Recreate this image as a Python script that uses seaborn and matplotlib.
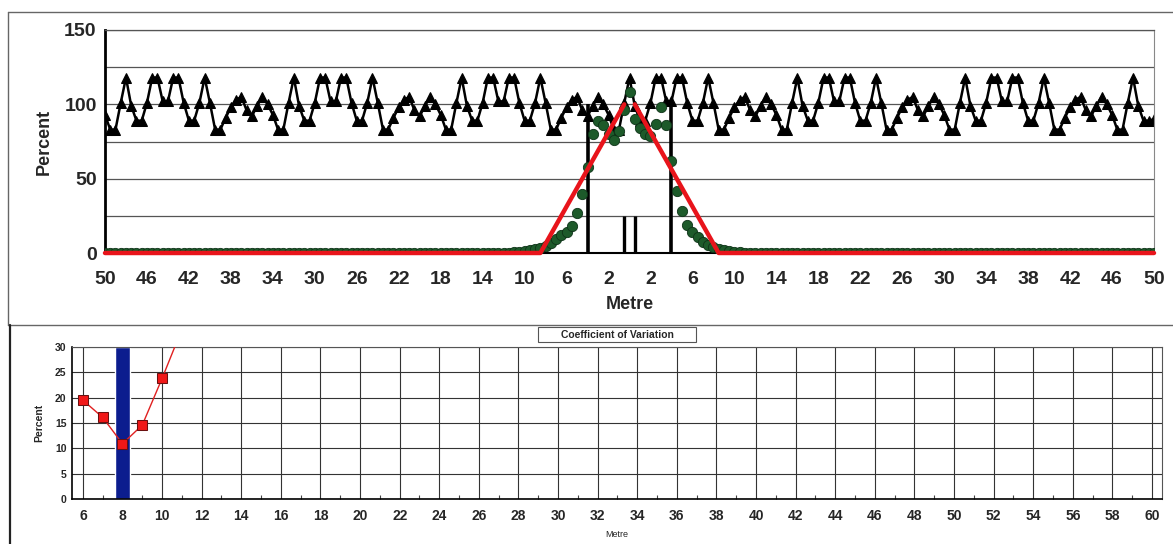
#!/usr/bin/env python3

import numpy as np
import seaborn as sns
import matplotlib
matplotlib.use('Agg')
from matplotlib import pyplot as plt
from matplotlib.lines import Line2D
from matplotlib.patches import Rectangle

# ---- top chart: distribution across the line, 0.5 m steps from -50 to 50
dist = np.arange(-50, 50.5, 0.5)

# overlapped (summed) application, percent of mean
overlap = [
    93,
    83, 83, 101, 118, 99, 89, 89, 101, 118, 118, 102, 102, 118, 118, 101, 89,
    89, 101, 118, 101, 83, 83, 91, 98, 103, 105, 96, 92, 99, 105, 100, 93,
    83, 83, 101, 118, 99, 89, 89, 101, 118, 118, 102, 102, 118, 118, 101, 89,
    89, 101, 118, 101, 83, 83, 91, 98, 103, 105, 96, 92, 99, 105, 100, 93,
    83, 83, 101, 118, 99, 89, 89, 101, 118, 118, 102, 102, 118, 118, 101, 89,
    89, 101, 118, 101, 83, 83, 91, 98, 103, 105, 96, 92, 99, 105, 100, 93,
    83, 83, 101, 118, 99, 89, 89, 101, 118, 118, 102, 102, 118, 118, 101, 89,
    89, 101, 118, 101, 83, 83, 91, 98, 103, 105, 96, 92, 99, 105, 100, 93,
    83, 83, 101, 118, 99, 89, 89, 101, 118, 118, 102, 102, 118, 118, 101, 89,
    89, 101, 118, 101, 83, 83, 91, 98, 103, 105, 96, 92, 99, 105, 100, 93,
    83, 83, 101, 118, 99, 89, 89, 101, 118, 118, 102, 102, 118, 118, 101, 89,
    89, 101, 118, 101, 83, 83, 91, 98, 103, 105, 96, 92, 99, 105, 100, 93,
    83, 83, 101, 118, 99, 89, 89, 90,
]

# single sprinkler (measured) profile
single = [
    0, 0, 0, 0, 0, 0, 0, 0, 0, 0, 0, 0, 0, 0, 0, 0, 0, 0, 0, 0,
    0, 0, 0, 0, 0, 0, 0, 0, 0, 0, 0, 0, 0, 0, 0, 0, 0, 0, 0, 0,
    0, 0, 0, 0, 0, 0, 0, 0, 0, 0, 0, 0, 0, 0, 0, 0, 0, 0, 0, 0,
    0, 0, 0, 0, 0, 0, 0, 0, 0, 0, 0, 0, 0, 0, 0, 0,
    0.1, 0.3, 0.5, 0.8, 1.2, 1.8, 2.6, 3.5, 5, 7, 9.5, 12, 14, 18, 27,
    40, 58, 80, 89, 86, 80, 76, 82, 96, 108, 90, 84, 80, 79, 87, 98,
    86, 62, 42, 28, 19, 14, 11, 7.5, 5.2, 3.8, 2.8, 2, 1.4, 0.9, 0.6,
    0.3, 0.1, 0,
    0, 0, 0, 0, 0, 0, 0, 0, 0, 0, 0, 0, 0, 0, 0, 0, 0, 0, 0, 0,
    0, 0, 0, 0, 0, 0, 0, 0, 0, 0, 0, 0, 0, 0, 0, 0, 0, 0, 0, 0,
    0, 0, 0, 0, 0, 0, 0, 0, 0, 0, 0, 0, 0, 0, 0, 0, 0, 0, 0, 0,
    0, 0, 0, 0, 0, 0, 0, 0, 0, 0, 0, 0, 0, 0, 0, 0,
]

# idealised triangular profile (two halves)
tri_left_x = [-50, -8.5, -0.5]
tri_left_y = [0, 0, 100]
tri_right_x = [0.5, 8.5, 50]
tri_right_y = [100, 0, 0]

# wetted strip markers
strip_x = [-4, 4]
strip_h = 100
centre_x = [-0.5, 0.5]
centre_h = 25

top_ticks = [-50, -46, -42, -38, -34, -30, -26, -22, -18, -14, -10, -6, -2,
             2, 6, 10, 14, 18, 22, 26, 30, 34, 38, 42, 46, 50]
top_labels = ['50', '46', '42', '38', '34', '30', '26', '22', '18', '14',
              '10', '6', '2', '2', '6', '10', '14', '18', '22', '26', '30',
              '34', '38', '42', '46', '50']

# ---- bottom chart: coefficient of variation vs spacing
cv_spacing = [6, 7, 8, 9, 10, 11]
cv_values = [19.5, 16.1, 10.9, 14.6, 23.8, 33.5]
best_spacing = [8]
best_height = [30]

W, H = 1173, 544


def box(x0, y0, x1, y1):
    # pixel box (top-left origin) -> figure fraction rect
    return [x0 / W, 1 - y1 / H, (x1 - x0) / W, (y1 - y0) / H]


sns.set_theme(style='white')
plt.rcParams['font.family'] = ['Liberation Sans', 'DejaVu Sans']

fig = plt.figure(figsize=(W / 100, H / 100), dpi=100)

# ---------------- top chart
ax1 = fig.add_axes(box(105, 30, 1154, 253))
ax1.set_axisbelow(True)

sns.lineplot(x=dist, y=overlap, ax=ax1, color='black', lw=1.8,
             marker='^', markersize=7, markeredgecolor='black',
             markerfacecolor='black', zorder=2)
ax1.vlines(strip_x, 0, strip_h, color='black', lw=2.6, zorder=2.5)
ax1.vlines(centre_x, 0, centre_h, color='black', lw=2.4, zorder=2.5)
sns.scatterplot(x=dist, y=single, ax=ax1, s=55, color='#1d5a2a',
                edgecolor='#0e3318', linewidth=0.6, zorder=3)
sns.lineplot(x=tri_left_x, y=tri_left_y, ax=ax1, color='#e8141b', lw=3.2,
             sort=False, zorder=4, clip_on=False)
sns.lineplot(x=tri_right_x, y=tri_right_y, ax=ax1, color='#e8141b', lw=3.2,
             sort=False, zorder=4, clip_on=False)

ax1.set_xlim(-50, 50)
ax1.set_ylim(0, 150)
ax1.set_xticks(top_ticks)
ax1.set_xticklabels(top_labels)
ax1.set_yticks([0, 50, 100, 150])
ax1.set_yticks([25, 75, 125], minor=True)
ax1.grid(axis='y', which='both', color='#555555', lw=0.9)
ax1.tick_params(axis='x', length=0, labelsize=14, pad=13)
ax1.tick_params(axis='y', which='both', length=0, labelsize=14, pad=6)
for lab in ax1.get_xticklabels() + ax1.get_yticklabels():
    lab.set_fontweight('bold')
ax1.set_xlabel('Metre', fontsize=13, fontweight='bold', labelpad=6)
ax1.set_ylabel('Percent', fontsize=13, fontweight='bold', labelpad=8)
ax1.spines['left'].set(color='black', lw=2)
ax1.spines['bottom'].set(color='black', lw=1.5)
ax1.spines['right'].set(color='#888888', lw=0.8)
ax1.spines['top'].set(color='#555555', lw=0.9)

# ---------------- bottom chart
ax2 = fig.add_axes(box(72, 347, 1162, 499))
ax2.set_axisbelow(True)
ax2.bar(best_spacing, best_height, width=0.8, color='#0c1d8e', zorder=2)
sns.lineplot(x=cv_spacing, y=cv_values, ax=ax2, color='#e02020', lw=1.0,
             marker='s', markersize=7, markerfacecolor='#f01818',
             markeredgecolor='#6a1010', zorder=3)
ax2.set_xlim(5.45, 60.5)
ax2.set_ylim(0, 30)
ax2.set_xticks(list(range(6, 61, 2)))
ax2.set_xticks(list(range(7, 60, 2)), minor=True)
ax2.set_yticks([0, 5, 10, 15, 20, 25, 30])
ax2.grid(axis='both', which='major', color='#333333', lw=0.8)
ax2.tick_params(axis='x', which='major', length=0, labelsize=10, pad=7)
ax2.tick_params(axis='x', which='minor', direction='in', length=3,
                width=0.8, color='#444444', bottom=True)
ax2.tick_params(axis='y', length=0, labelsize=7.5, pad=4)
for lab in ax2.get_xticklabels() + ax2.get_yticklabels():
    lab.set_fontweight('bold')
ax2.set_xlabel('Metre', fontsize=6.5, labelpad=5)
ax2.set_ylabel('Percent', fontsize=7.5, fontweight='bold', labelpad=8)
for side in ['left', 'bottom']:
    ax2.spines[side].set(color='black', lw=1.2)
for side in ['top', 'right']:
    ax2.spines[side].set(color='#555555', lw=0.8)

# title box of the bottom chart
fig.add_artist(Rectangle((538 / W, 1 - 342 / H), 158 / W, 15 / H,
                         transform=fig.transFigure, fc='white',
                         ec='#555555', lw=0.8))
fig.text(617 / W, 1 - 334.5 / H, 'Coefficient of Variation', ha='center',
         va='center', fontsize=7.5, fontweight='bold')

# outer frames of the two charts
frame = dict(transform=fig.transFigure, color='#666666', lw=1.0)
fig.add_artist(Line2D([8 / W, 1], [1 - 12 / H, 1 - 12 / H], **frame))
fig.add_artist(Line2D([8 / W, 8 / W], [1 - 12 / H, 1 - 325 / H], **frame))
fig.add_artist(Line2D([8 / W, 1], [1 - 325 / H, 1 - 325 / H], **frame))
fig.add_artist(Line2D([10 / W, 10 / W], [1 - 325 / H, 0],
                      transform=fig.transFigure, color='#222222', lw=1.6))

fig.savefig('out.png', dpi=100)
